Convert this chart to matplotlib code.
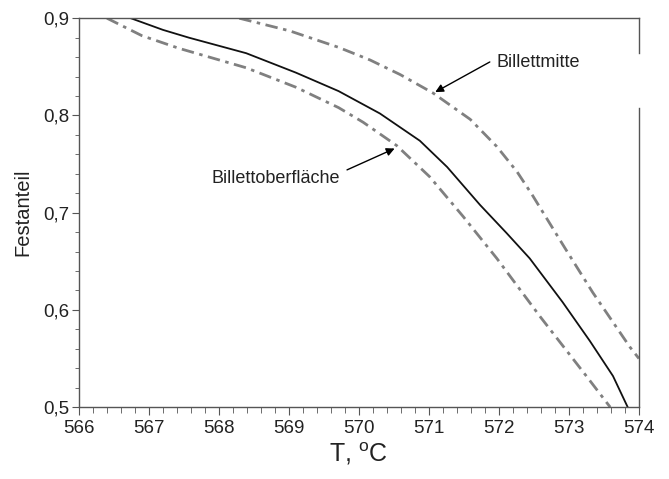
import matplotlib
matplotlib.use("Agg")
import matplotlib.pyplot as plt
from matplotlib.ticker import MultipleLocator, FuncFormatter

plt.rcParams['font.family'] = ['Liberation Sans', 'DejaVu Sans']
plt.rcParams['mathtext.fontset'] = 'custom'
plt.rcParams['mathtext.rm'] = 'Liberation Sans'
plt.rcParams['lines.scale_dashes'] = False

# Mittelkurve (durchgezogen)
t_mitte = [566.74, 567.20, 567.57, 568.39, 569.10, 569.71, 570.30, 570.87,
           571.26, 571.73, 572.11, 572.44, 572.91, 573.30, 573.63, 573.84]
f_mitte = [0.900, 0.888, 0.880, 0.864, 0.844, 0.825, 0.802, 0.774,
           0.747, 0.708, 0.679, 0.653, 0.608, 0.568, 0.532, 0.500]

# Billettoberflaeche (unten, strichpunkt)
t_ober = [566.40, 566.90, 567.43, 568.39, 569.10, 569.71, 570.06, 570.54,
          571.01, 571.49, 571.97, 572.59, 573.26, 573.59]
f_ober = [0.900, 0.882, 0.869, 0.849, 0.829, 0.808, 0.793, 0.769,
          0.737, 0.696, 0.653, 0.593, 0.531, 0.500]

# Billettmitte (oben, strichpunkt)
t_bm = [568.29, 569.01, 569.71, 570.16, 570.59, 571.06, 571.59, 571.97,
        572.26, 572.47, 572.94, 573.34, 573.87, 574.00]
f_bm = [0.900, 0.887, 0.870, 0.857, 0.842, 0.823, 0.796, 0.768,
        0.742, 0.719, 0.664, 0.618, 0.562, 0.550]

fig = plt.figure(figsize=(6.69, 4.79), dpi=100)
ax = fig.add_axes([0.118, 0.150, 0.837, 0.812])

grau = '#808080'
ax.plot(t_mitte, f_mitte, color='#111111', lw=1.3)
ax.plot(t_ober, f_ober, color=grau, lw=2, dashes=(9, 4, 2.5, 4))
ax.plot(t_bm, f_bm, color=grau, lw=2, dashes=(9, 4, 2.5, 4))

ax.set_xlim(566, 574)
ax.set_ylim(0.5, 0.9)
ax.xaxis.set_major_locator(MultipleLocator(1))
ax.xaxis.set_minor_locator(MultipleLocator(0.2))
ax.yaxis.set_major_locator(MultipleLocator(0.1))
ax.yaxis.set_minor_locator(MultipleLocator(0.02))
ax.yaxis.set_major_formatter(FuncFormatter(lambda v, p: f"{v:.1f}".replace('.', ',')))
ax.xaxis.set_major_formatter(FuncFormatter(lambda v, p: f"{v:.0f}"))

sp = '#555555'
for s in ax.spines.values():
    s.set_color(sp)
    s.set_linewidth(1)
ax.spines['right'].set_visible(False)
# rechte Achse mit Luecke
ax.plot([1, 1], [0, 0.769], transform=ax.transAxes, color=sp, lw=1, clip_on=False)
ax.plot([1, 1], [0.91, 1], transform=ax.transAxes, color=sp, lw=1, clip_on=False)

ax.tick_params(axis='both', which='both', direction='out', colors=sp,
               labelcolor='#222222', labelsize=13.5)
ax.tick_params(axis='x', which='major', length=6, pad=3)
ax.tick_params(axis='x', which='minor', length=4)
ax.tick_params(axis='y', which='major', length=5, pad=2)
ax.tick_params(axis='y', which='minor', length=3)

ax.set_xlabel(r'T, $^{\mathrm{o}}$C', fontsize=18, color='#222222', labelpad=3)
ax.set_ylabel('Festanteil', fontsize=14.5, color='#222222', labelpad=8)

pfeil = dict(arrowstyle='-|>', color='black', lw=1, mutation_scale=12,
             shrinkA=0, shrinkB=0)
ax.annotate('', xy=(571.09, 0.824), xytext=(571.87, 0.855), arrowprops=pfeil)
ax.text(571.97, 0.854, 'Billettmitte', fontsize=13, ha='left', va='center',
        color='#222222')
ax.annotate('', xy=(570.51, 0.766), xytext=(569.83, 0.744), arrowprops=pfeil)
ax.text(569.73, 0.735, 'Billettoberfläche', fontsize=13, ha='right', va='center',
        color='#222222')

fig.savefig('out.png', dpi=100)
